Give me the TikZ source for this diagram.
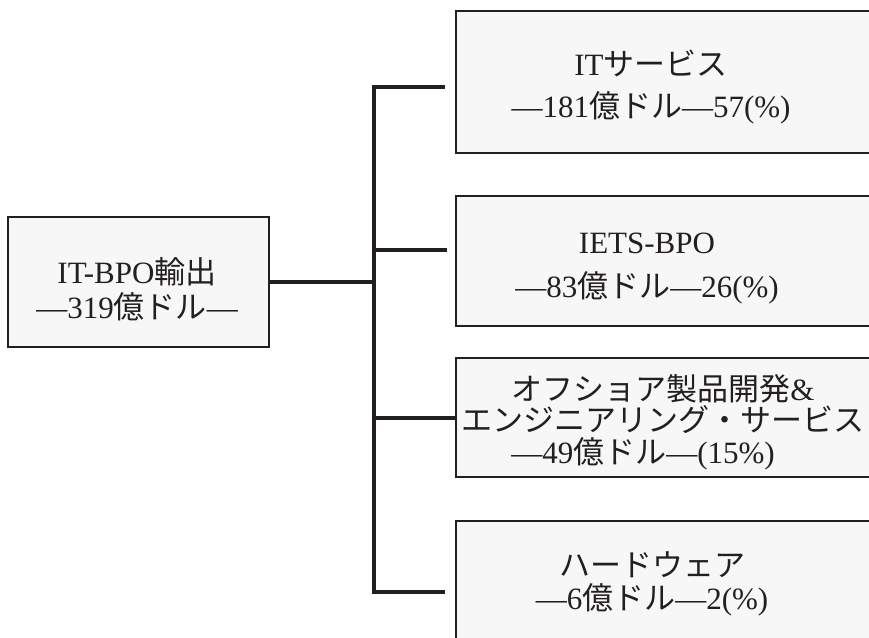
\documentclass[tikz,border=0pt]{standalone}
\usepackage{fontspec}
\setmainfont{Liberation Serif}
\newfontfamily\jp{Noto Sans CJK JP}
\definecolor{ln}{HTML}{231F20}
\definecolor{bx}{HTML}{F7F7F7}
\tikzset{
  box/.style={draw=ln, fill=bx, line width=1.8pt, anchor=north west, inner sep=0pt, outer sep=0pt},
  lbl/.style={align=center, inner sep=0pt, text=ln, font=\fontsize{31}{35}\selectfont},
  bus/.style={draw=ln, line width=3.6pt, line join=miter, line cap=butt}
}
\begin{document}
\begin{tikzpicture}[x=1pt, y=-1pt]
\useasboundingbox (0,0) rectangle (869,637);
\clip (0,0) rectangle (869,637);
\fill[white] (0,0) rectangle (869,637);

% boxes
\node[box, minimum width=261, minimum height=130] (L) at (8,217) {};
\node[box, minimum width=430, minimum height=142] (b1) at (456,11) {};
\node[box, minimum width=430, minimum height=130] (b2) at (456,196) {};
\node[box, minimum width=430, minimum height=119] (b3) at (456,358) {};
\node[box, minimum width=430, minimum height=140] (b4) at (456,521) {};

% labels
\node[lbl] (tL) at (137,289) {IT-BPO{\jp 輸出}\\—319{\jp 億ドル}—};
\node[lbl, font=\fontsize{31}{42}\selectfont] (t1) at (651,87) {IT{\jp サービス}\\—181{\jp 億ドル}—57(\%)};
\node[lbl, font=\fontsize{31}{44}\selectfont] (t2) at (647,269) {IETS-BPO\\—83{\jp 億ドル}—26(\%)};
\node[lbl, font=\fontsize{31}{31.5}\selectfont] (t3) at (663,422) {{\jp オフショア製品開発}\&\\{\jp エンジニアリング・サービス}\\—49{\jp 億ドル}—(15\%)\hspace*{40pt}};
\node[lbl, font=\fontsize{31}{33}\selectfont] (t4) at (652,584) {{\jp ハードウェア}\\—6{\jp 億ドル}—2(\%)};

% connector junctions
\coordinate (j1) at (374,87);
\coordinate (e1) at (445,87);
\coordinate (j2) at (374,250);
\coordinate (e2) at (447,250);
\coordinate (j3) at (374,418);
\coordinate (j4) at (374,592);
\coordinate (e4) at (445,592);
\coordinate (jm) at (374,282);

\draw[bus] (e1) -- (j1) -- (j4) -- (e4);
\draw[bus] (j2) -- (e2);
\draw[bus] (j3) -- (j3 -| b3.west);
\draw[bus] (L.east) -- (jm);
\end{tikzpicture}
\end{document}
